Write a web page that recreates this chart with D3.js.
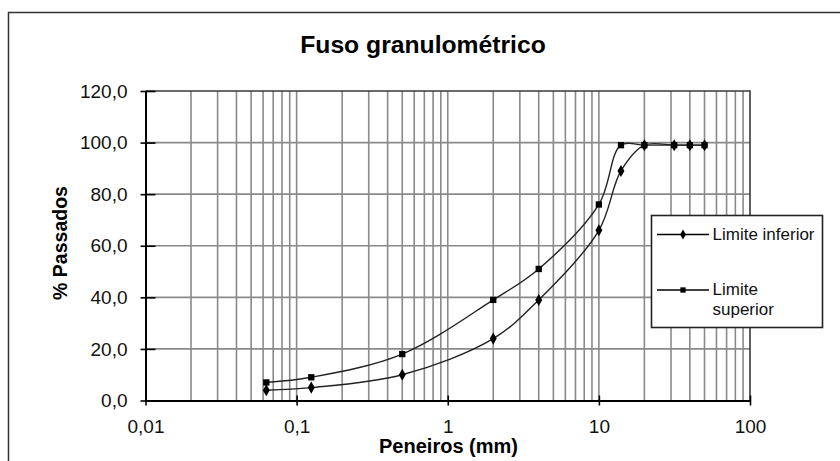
<!DOCTYPE html>
<html>
<head>
<meta charset="utf-8">
<script src="https://cdn.jsdelivr.net/npm/d3@7"></script>
<style>
  html, body { margin: 0; padding: 0; background: #fff; }
  svg { display: block; font-family: "Liberation Sans", Arial, sans-serif; }
</style>
</head>
<body>
<svg id="chart" width="840" height="461"></svg>
<script>
// ---- Data ----
const title = "Fuso granulométrico";
const xLabel = "Peneiros (mm)";
const yLabel = "% Passados";
const sieves = [0.063, 0.125, 0.5, 2, 4, 10, 14, 20, 31.5, 40, 50];
const limiteInferior = [4, 5, 10, 24, 39, 66, 89, 99, 99, 99, 99];
const limiteSuperior = [7, 9, 18, 39, 51, 76, 99, 99, 99, 99, 99];
const seriesNames = ["Limite inferior", "Limite superior"];
const xTickValues = [0.01, 0.1, 1, 10, 100];
const xTickLabels = ["0,01", "0,1", "1", "10", "100"];
const yTickValues = [0, 20, 40, 60, 80, 100, 120];

(function () {
// ---- Layout ----
const svg = d3.select("#chart");
const pL = 145.5, pR = 750, pT = 91, pB = 400.5;

const x = d3.scaleLog().domain([0.01, 100]).range([pL, pR]);
const y = d3.scaleLinear().domain([0, 120]).range([pB, pT]);

// outer border
svg.append("rect")
  .attr("x", 8.5).attr("y", 12.5).attr("width", 845).attr("height", 465)
  .attr("fill", "#fff").attr("stroke", "#333").attr("stroke-width", 1.5);

// title
svg.append("text")
  .attr("x", 423).attr("y", 53)
  .attr("text-anchor", "middle")
  .attr("font-size", 24.7).attr("font-weight", "bold")
  .attr("fill", "#000")
  .text(title);

// gridlines
const gridX = [];
for (let e = -2; e <= 1; e++) {
  for (let k = 1; k <= 9; k++) {
    const v = k * Math.pow(10, e);
    if (v > 0.0101 && v < 99.9) gridX.push(v);
  }
}
const grid = svg.append("g");
grid.selectAll("line.gx").data(gridX).enter().append("line")
  .attr("x1", d => x(d)).attr("x2", d => x(d))
  .attr("y1", pT).attr("y2", pB)
  .attr("stroke", "#8a8a8a").attr("stroke-width", 1.6);
grid.selectAll("line.gy").data(yTickValues.filter(d => d > 0 && d < 120)).enter().append("line")
  .attr("x1", pL).attr("x2", pR)
  .attr("y1", d => y(d)).attr("y2", d => y(d))
  .attr("stroke", "#8a8a8a").attr("stroke-width", 1.6);

// plot border top/right
svg.append("path")
  .attr("d", `M${pL},${pT}H${pR}V${pB}`)
  .attr("fill", "none").attr("stroke", "#3a3a3a").attr("stroke-width", 1.6);

// axes
const fmtY = d => d3.format(".1f")(d).replace(".", ",");
const yAxis = svg.append("g")
  .attr("transform", `translate(${pL},0)`)
  .call(d3.axisLeft(y).tickValues(yTickValues).tickFormat(fmtY).tickSizeInner(5).tickSizeOuter(0).tickPadding(13));
yAxis.selectAll(".tick line").attr("x2", -5).attr("x1", 10).attr("stroke", "#000").attr("stroke-width", 1.6);
yAxis.select(".domain").attr("stroke", "#000").attr("stroke-width", 2);
yAxis.selectAll("text").attr("font-size", 19).attr("font-family", "Liberation Sans, Arial, sans-serif").attr("fill", "#111");

const xAxis = svg.append("g")
  .attr("transform", `translate(0,${pB})`)
  .call(d3.axisBottom(x).tickValues(xTickValues).tickFormat((d, i) => xTickLabels[i]).tickSizeInner(5).tickSizeOuter(0).tickPadding(14));
xAxis.selectAll(".tick line").attr("y1", -5).attr("y2", 5).attr("stroke", "#000").attr("stroke-width", 1.6);
xAxis.select(".domain").attr("stroke", "#000").attr("stroke-width", 2);
xAxis.selectAll("text").attr("font-size", 19).attr("font-family", "Liberation Sans, Arial, sans-serif").attr("fill", "#111");

// axis titles
svg.append("text")
  .attr("transform", "translate(67,243) rotate(-90)")
  .attr("text-anchor", "middle")
  .attr("font-size", 19.5).attr("font-weight", "bold").attr("fill", "#000")
  .text(yLabel);
svg.append("text")
  .attr("x", 448.5).attr("y", 453)
  .attr("text-anchor", "middle")
  .attr("font-size", 20).attr("font-weight", "bold").attr("fill", "#000")
  .text(xLabel);

// series
const series = [
  { name: seriesNames[0], values: limiteInferior, symbol: d3.symbolDiamond, size: 42 },
  { name: seriesNames[1], values: limiteSuperior, symbol: d3.symbolSquare, size: 40 }
];
const line = d3.line()
  .x(d => x(d[0])).y(d => y(d[1]))
  .curve(d3.curveCatmullRom.alpha(0.5));

series.forEach(s => {
  const pts = sieves.map((v, i) => [v, s.values[i]]);
  svg.append("path")
    .attr("d", line(pts))
    .attr("fill", "none").attr("stroke", "#222").attr("stroke-width", 1.4);
  svg.append("g").selectAll("path").data(pts).enter().append("path")
    .attr("transform", d => `translate(${x(d[0])},${y(d[1])})`)
    .attr("d", d3.symbol().type(s.symbol).size(s.size))
    .attr("fill", "#000");
});

// legend
const lg = svg.append("g");
lg.append("rect")
  .attr("x", 651.5).attr("y", 215.5).attr("width", 171).attr("height", 112)
  .attr("fill", "#fff").attr("stroke", "#222").attr("stroke-width", 1.6);
const legendRows = [
  { s: series[0], ly: 234.5, lines: ["Limite inferior"], ty: 239.5 },
  { s: series[1], ly: 290, lines: ["Limite", "superior"], ty: 295 }
];
legendRows.forEach(r => {
  lg.append("line").attr("x1", 657).attr("x2", 709).attr("y1", r.ly).attr("y2", r.ly)
    .attr("stroke", "#000").attr("stroke-width", 1.4);
  lg.append("path").attr("transform", `translate(683,${r.ly})`)
    .attr("d", d3.symbol().type(r.s.symbol).size(r.s.size * 0.7)).attr("fill", "#000");
  const t = lg.append("text").attr("x", 712.5).attr("y", r.ty)
    .attr("font-size", 17).attr("fill", "#111");
  r.lines.forEach((ln, i) => {
    t.append("tspan").attr("x", 712.5).attr("dy", i === 0 ? 0 : 20).text(ln);
  });
});
})();
</script>
</body>
</html>
